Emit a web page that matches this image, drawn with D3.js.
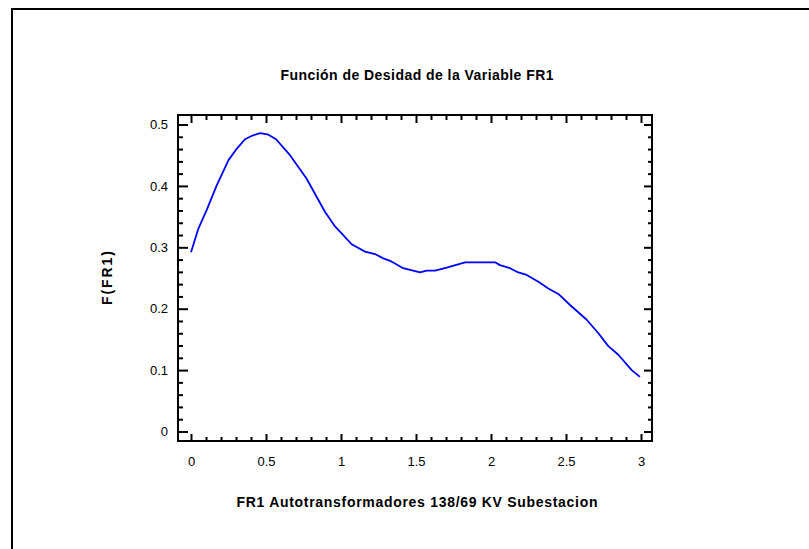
<!DOCTYPE html>
<html lang="es">
<head>
<meta charset="UTF-8">
<title>Función de Desidad</title>
<script src="https://cdn.jsdelivr.net/npm/d3@7"></script>
<style>
  body { margin: 0; background: #fff; }
  text { font-family: "Liberation Sans", Arial, sans-serif; }
</style>
</head>
<body>
<div id="chart"></div>
<script>
// density curve
var xVals = [0, 0.05, 0.105, 0.17, 0.25, 0.30, 0.36, 0.41, 0.46, 0.51, 0.567, 0.66, 0.77,
  0.893, 0.96, 1.015, 1.071, 1.16, 1.227, 1.282, 1.327, 1.415, 1.527, 1.571, 1.627, 1.705,
  1.827, 2.027, 2.06, 2.127, 2.182, 2.238, 2.316, 2.382, 2.449, 2.527, 2.638, 2.716, 2.782,
  2.849, 2.938, 2.993];
var density = [0.292, 0.331, 0.361, 0.400, 0.442, 0.459, 0.476, 0.482, 0.486, 0.484, 0.476, 0.450, 0.412,
  0.358, 0.334, 0.320, 0.305, 0.293, 0.289, 0.282, 0.278, 0.266, 0.259, 0.262, 0.262, 0.267,
  0.2756, 0.2756, 0.271, 0.266, 0.259, 0.255, 0.244, 0.233, 0.224, 0.206, 0.182, 0.160, 0.139,
  0.125, 0.100, 0.089];
var xTicks = [0, 0.5, 1, 1.5, 2, 2.5, 3];
var yTicks = [0, 0.1, 0.2, 0.3, 0.4, 0.5];

var w = 809, h = 549;
var plotL = 178, plotR = 652, plotT = 115, plotB = 441;

var svg = d3.select('#chart').append('svg')
  .attr('width', w).attr('height', h);

// outer frame (runs off the page right and bottom)
svg.append('rect')
  .attr('x', 12).attr('y', 9)
  .attr('width', 820).attr('height', 560)
  .attr('fill', 'none').attr('stroke', '#000').attr('stroke-width', 2);

var xScale = d3.scaleLinear()
  .domain([-13 / 150, 461 / 150])
  .range([plotL, plotR]);

var yScale = d3.scaleLinear()
  .domain([-0.0155, 0.5155])
  .range([plotB, plotT]);

var minorX = d3.range(0, 31).map(d => d / 10).filter(d => Math.round(d * 10) % 5 != 0);
var minorY = d3.range(0, 26).map(d => d / 50).filter(d => Math.round(d * 50) % 5 != 0);

function axisStyle(g) {
  g.select('.domain').remove();
  g.selectAll('.tick line').attr('stroke', '#000').attr('stroke-width', 2);
}

function labelStyle(g) {
  g.selectAll('text').attr('font-size', 13).attr('fill', '#000')
    .attr('font-family', '"Liberation Sans", Arial, sans-serif');
}

// bottom axis, ticks pointing inward
svg.append('g').attr('transform', 'translate(0,' + plotB + ')')
  .call(d3.axisBottom(xScale).tickValues(xTicks).tickSize(-7).tickPadding(16)
    .tickFormat(d3.format('')))
  .call(axisStyle)
  .call(labelStyle);
svg.append('g').attr('transform', 'translate(0,' + plotB + ')')
  .call(d3.axisBottom(xScale).tickValues(minorX).tickSize(-4).tickFormat(''))
  .call(axisStyle);

// top axis
svg.append('g').attr('transform', 'translate(0,' + plotT + ')')
  .call(d3.axisTop(xScale).tickValues(xTicks).tickSize(-8).tickFormat(''))
  .call(axisStyle);
svg.append('g').attr('transform', 'translate(0,' + plotT + ')')
  .call(d3.axisTop(xScale).tickValues(minorX).tickSize(-5).tickFormat(''))
  .call(axisStyle);

// left axis
svg.append('g').attr('transform', 'translate(' + plotL + ',0)')
  .call(d3.axisLeft(yScale).tickValues(yTicks).tickSize(-10).tickPadding(10)
    .tickFormat(d3.format('')))
  .call(axisStyle)
  .call(labelStyle);
svg.append('g').attr('transform', 'translate(' + plotL + ',0)')
  .call(d3.axisLeft(yScale).tickValues(minorY).tickSize(-5).tickFormat(''))
  .call(axisStyle);

// right axis
svg.append('g').attr('transform', 'translate(' + plotR + ',0)')
  .call(d3.axisRight(yScale).tickValues(yTicks).tickSize(-8).tickFormat(''))
  .call(axisStyle);
svg.append('g').attr('transform', 'translate(' + plotR + ',0)')
  .call(d3.axisRight(yScale).tickValues(minorY).tickSize(-4).tickFormat(''))
  .call(axisStyle);

// plot frame
svg.append('rect')
  .attr('x', plotL).attr('y', plotT)
  .attr('width', plotR - plotL).attr('height', plotB - plotT)
  .attr('fill', 'none').attr('stroke', '#000').attr('stroke-width', 2);

var line = d3.line()
  .x((d, i) => xScale(xVals[i]))
  .y(d => yScale(d));

svg.append('path')
  .datum(density)
  .attr('d', line)
  .attr('fill', 'none')
  .attr('stroke', '#0000ff')
  .attr('stroke-width', 1.8)
  .attr('stroke-linejoin', 'round');

// titles
svg.append('text')
  .attr('x', 417).attr('y', 80)
  .attr('text-anchor', 'middle')
  .attr('font-size', 14).attr('font-weight', 'bold')
  .attr('textLength', 273)
  .text('Función de Desidad de la Variable FR1');

svg.append('text')
  .attr('x', 417).attr('y', 507)
  .attr('text-anchor', 'middle')
  .attr('font-size', 14).attr('font-weight', 'bold')
  .attr('textLength', 361)
  .text('FR1 Autotransformadores 138/69 KV Subestacion');

svg.append('text')
  .attr('transform', 'translate(112,278) rotate(-90)')
  .attr('text-anchor', 'middle')
  .attr('font-size', 14).attr('font-weight', 'bold')
  .attr('textLength', 54)
  .text('F(FR1)');
</script>
</body>
</html>
